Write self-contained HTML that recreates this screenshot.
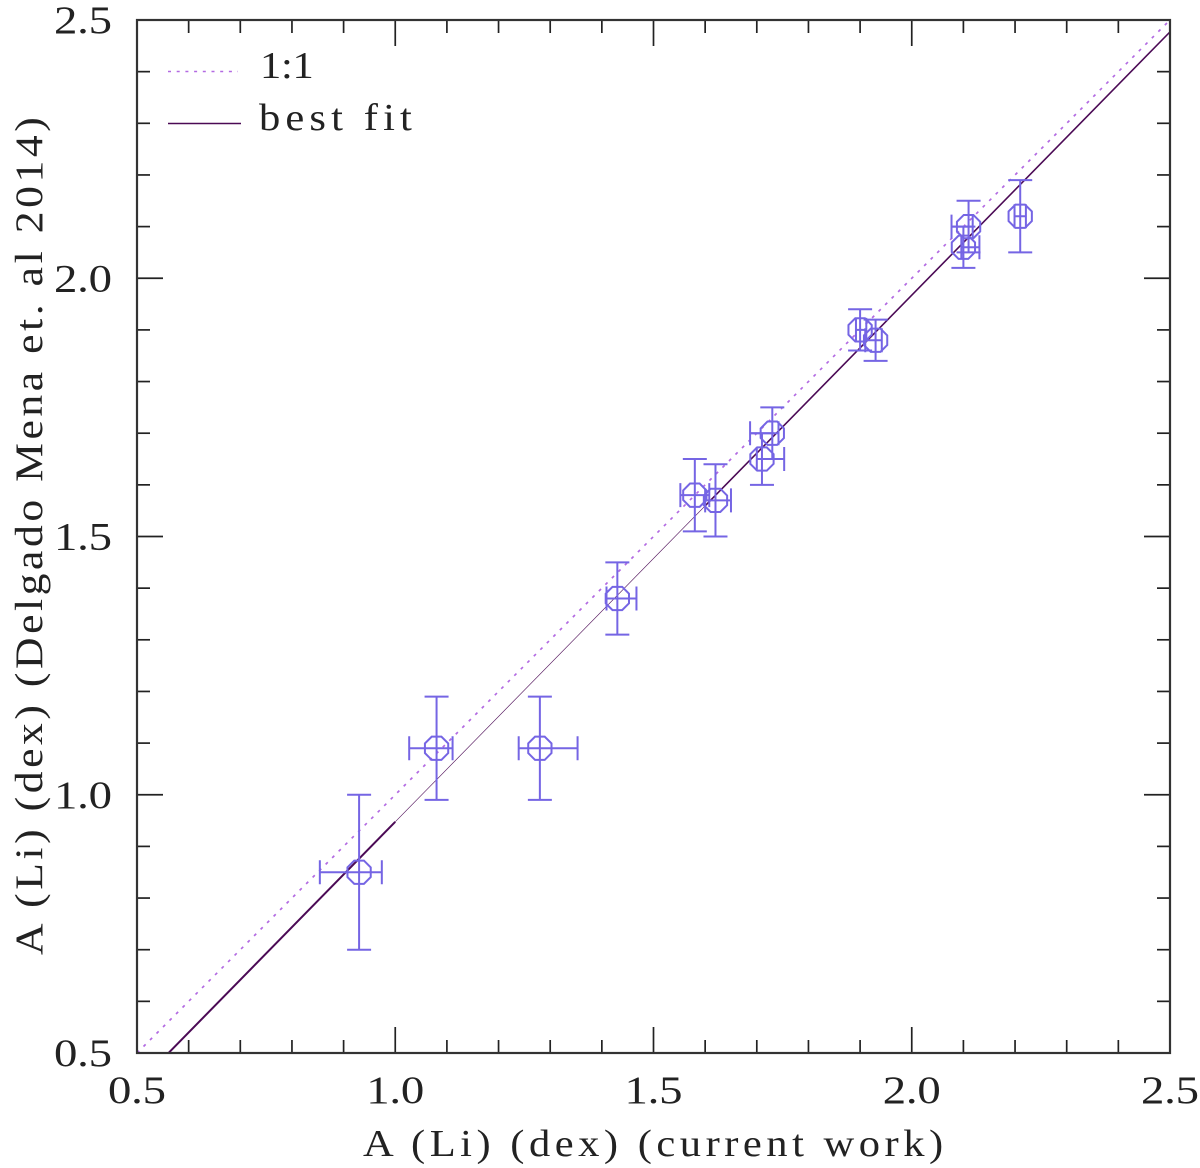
<!DOCTYPE html>
<html lang="en">
<head>
<meta charset="utf-8">
<title>A (Li) comparison</title>
<style>
html,body{margin:0;padding:0;background:#fff;width:1200px;height:1168px;overflow:hidden}
svg{display:block}
text{font-family:"Liberation Serif",serif;fill:#222}
</style>
</head>
<body>
<svg id="chart" xmlns="http://www.w3.org/2000/svg" width="1200" height="1168" viewBox="0 0 1200 1168">
  <rect x="0" y="0" width="1200" height="1168" fill="#fff"/>
  <defs><clipPath id="plot-clip"><rect x="137" y="20" width="1033" height="1033"/></clipPath></defs>
  <g id="series-layer" clip-path="url(#plot-clip)"></g>
  <g id="points-layer"></g>
  <g id="ticks-layer"></g>
  <rect x="137" y="20" width="1033" height="1033" fill="none" stroke="#333" stroke-width="2.2"/>
  <g id="labels-layer"></g>
  <text transform="translate(363,1156) scale(1.12,1)" font-size="38" textLength="518" lengthAdjust="spacing">A (Li) (dex) (current work)</text>
  <text transform="translate(42,955) rotate(-90) scale(1.12,1)" font-size="39" textLength="748" lengthAdjust="spacing">A (Li) (dex) (Delgado Mena et. al 2014)</text>
  <g>
    <line x1="168" y1="71.5" x2="238" y2="71.5" stroke="#b36ae2" stroke-width="1.4" stroke-dasharray="3 5.7"/>
    <text transform="translate(260,78) scale(1.12,1)" font-size="38" textLength="48" lengthAdjust="spacing">1:1</text>
    <line x1="168" y1="123.5" x2="241" y2="123.5" stroke="#4b0a55" stroke-width="1.6"/>
    <text transform="translate(259,130) scale(1.12,1)" font-size="38" textLength="136.5" lengthAdjust="spacing">best fit</text>
  </g>
</svg>
<script>
const starX = [0.93, 1.08, 1.28, 1.43, 1.58, 1.62, 1.71, 1.73, 1.90, 1.93, 2.10, 2.11, 2.21];
const starY = [0.85, 1.09, 1.09, 1.38, 1.58, 1.57, 1.65, 1.70, 1.90, 1.88, 2.06, 2.10, 2.12];
const errXLow = [0.076, 0.053, 0.041, 0.021, 0.028, 0.02, 0.01, 0.043, 0.008, 0.02, 0.004, 0.033, 0.011];
const errXHigh = [0.044, 0.031, 0.073, 0.037, 0.028, 0.03, 0.043, 0.012, 0.012, 0.012, 0.031, 0.008, 0.011];
const errY = [0.15, 0.10, 0.10, 0.07, 0.07, 0.07, 0.05, 0.05, 0.04, 0.04, 0.04, 0.05, 0.07];
const xTickLabels = ["0.5", "1.0", "1.5", "2.0", "2.5"];
const yTickLabels = ["0.5", "1.0", "1.5", "2.0", "2.5"];
const axisMin = 0.5;
const axisMax = 2.5;
const minorStep = 0.1;
const oneToOneEnds = [0.5, 2.5];
const fitSlope = 1.0196;
const fitPivotX = 0.561;
const fitPivotY = 0.5;
const fitBreaks = [0.5, 1.0, 1.6, 2.5];

const SVGNS = 'http://www.w3.org/2000/svg';
const plot = {left: 137, right: 1170, top: 20, bottom: 1053};
const sx = v => plot.left + (v - axisMin) / (axisMax - axisMin) * (plot.right - plot.left);
const sy = v => plot.bottom - (v - axisMin) / (axisMax - axisMin) * (plot.bottom - plot.top);
const fitAt = x => fitPivotY + fitSlope * (x - fitPivotX);
function mk(tag, attrs, parent) {
  const el = document.createElementNS(SVGNS, tag);
  for (const k in attrs) el.setAttribute(k, attrs[k]);
  parent.appendChild(el);
  return el;
}
const seriesLayer = document.getElementById('series-layer');
const pointsLayer = document.getElementById('points-layer');
const ticksLayer = document.getElementById('ticks-layer');
const labelsLayer = document.getElementById('labels-layer');

const oneLine = mk('line', {x1: sx(oneToOneEnds[0]), y1: sy(oneToOneEnds[0]), x2: sx(oneToOneEnds[1]), y2: sy(oneToOneEnds[1]), stroke: '#b36ae2', 'stroke-width': 1.7, 'stroke-dasharray': '3 6.2'}, seriesLayer);



const fitWidths = ['2', '0.6', '1.6'];
for (let i = 0; i < fitBreaks.length - 1; i++) {
  const seg = mk('line', {x1: sx(fitBreaks[i]), y1: sy(fitAt(fitBreaks[i])), x2: sx(fitBreaks[i + 1]), y2: sy(fitAt(fitBreaks[i + 1])), stroke: '#4b0a55', 'stroke-width': fitWidths[i]}, seriesLayer);
  
  
}

const capHalf = 12;
const markerR = 12.6;
const ptColor = '#7565e4';
starX.forEach((xv, i) => {
  const cx = sx(xv), cy = sy(starY[i]);
  const g = mk('g', {fill: 'none', stroke: ptColor, 'stroke-width': 2}, pointsLayer);
  
  
  const x0 = sx(xv - errXLow[i]), x1 = sx(xv + errXHigh[i]);
  const y0 = sy(starY[i] - errY[i]), y1 = sy(starY[i] + errY[i]);
  const d = 'M' + x0 + ' ' + cy + 'H' + x1 +
    'M' + x0 + ' ' + (cy - capHalf) + 'V' + (cy + capHalf) +
    'M' + x1 + ' ' + (cy - capHalf) + 'V' + (cy + capHalf) +
    'M' + cx + ' ' + y0 + 'V' + y1 +
    'M' + (cx - capHalf) + ' ' + y0 + 'H' + (cx + capHalf) +
    'M' + (cx - capHalf) + ' ' + y1 + 'H' + (cx + capHalf);
  const bars = mk('path', {d: d}, g);
  
  
  const pts = [];
  for (let k = 0; k < 8; k++) {
    const a = Math.PI / 8 + k * Math.PI / 4;
    pts.push((cx + markerR * Math.cos(a)).toFixed(2) + ',' + (cy + markerR * Math.sin(a)).toFixed(2));
  }
  const oct = mk('polygon', {points: pts.join(' ')}, g);
  
  
});

const tickCount = Math.round((axisMax - axisMin) / minorStep);
for (let i = 1; i < tickCount; i++) {
  const v = axisMin + i * minorStep;
  const len = i % 5 === 0 ? 26 : 13;
  const px = sx(v), py = sy(v);
  const segs = [
    [px, plot.bottom, px, plot.bottom - len, 'x-tick-bottom'],
    [px, plot.top, px, plot.top + len, 'x-tick-top'],
    [plot.left, py, plot.left + len, py, 'y-tick-left'],
    [plot.right, py, plot.right - len, py, 'y-tick-right']
  ];
  segs.forEach(s => {
    const t = mk('line', {x1: s[0], y1: s[1], x2: s[2], y2: s[3], stroke: '#222', 'stroke-width': 1.7}, ticksLayer);
    
    
  });
}

const labelStretch = 1.2;
xTickLabels.forEach(lbl => {
  const t = mk('text', {transform: 'translate(' + (sx(parseFloat(lbl)) - 29) + ',1103) scale(' + labelStretch + ',1)', 'font-size': 39, textLength: 58 / labelStretch, lengthAdjust: 'spacing'}, labelsLayer);
  t.textContent = lbl;
  
  
});
yTickLabels.forEach(lbl => {
  const t = mk('text', {transform: 'translate(54,' + (sy(parseFloat(lbl)) + 13) + ') scale(' + labelStretch + ',1)', 'font-size': 39, textLength: 58 / labelStretch, lengthAdjust: 'spacing'}, labelsLayer);
  t.textContent = lbl;
  
  
});
</script>
</body>
</html>
